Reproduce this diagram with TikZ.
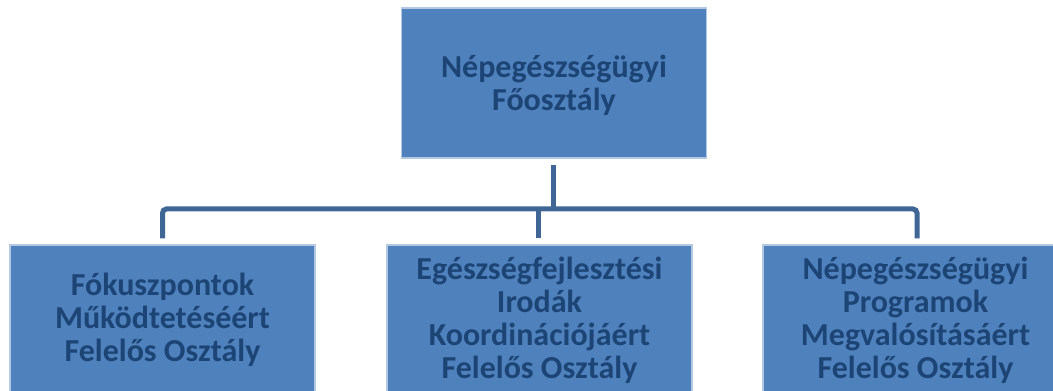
\documentclass[tikz,border=0pt]{standalone}
\usepackage{fontspec}
\setmainfont{Carlito}
\usetikzlibrary{positioning, calc}

\definecolor{boxblue}{HTML}{4F81BD}
\definecolor{boxedge}{HTML}{B4C8E2}
\definecolor{textblue}{HTML}{1C4475}
\definecolor{linkblue}{HTML}{3F6695}

\tikzset{
    unit/.style={draw=boxedge, line width=1.2pt, fill=boxblue, text=textblue,
        minimum width=305pt, minimum height=150pt, inner sep=0pt,
        align=center, font=\fontsize{32}{33}\selectfont\bfseries},
    link/.style={draw=linkblue, line width=5pt, rounded corners=4pt}
}

\begin{document}
\begin{tikzpicture}[x=1pt, y=1pt]
    \clip (0,0) rectangle (1053,391);
    \fill[white] (0,0) rectangle (1053,391);

    \node[unit, text depth=-4pt] (hub) at (554,308) {Népegészségügyi\\Főosztály};

    \node[unit] (focus) at (162.5,71) {Fókuszpontok\\Működtetéséért\\Felelős Osztály};
    \node[unit] (health) at (539.5,71) {Egészségfejlesztési\\Irodák\\Koordinációjáért\\Felelős Osztály};
    \node[unit] (program) at (915.5,71) {Népegészségügyi\\Programok\\Megvalósításáért\\Felelős Osztály};

    \coordinate (bus) at (553,182);

    \draw[link] ([xshift=-1pt, yshift=-6pt]hub.south) -- (bus);
    \draw[link] ([yshift=6pt]focus.north) |- (bus) -| ([xshift=1.5pt, yshift=6pt]program.north);
    \draw[link] ([xshift=-1.5pt, yshift=6pt]health.north) -- ([xshift=-1.5pt]health.north |- bus);
\end{tikzpicture}
\end{document}
